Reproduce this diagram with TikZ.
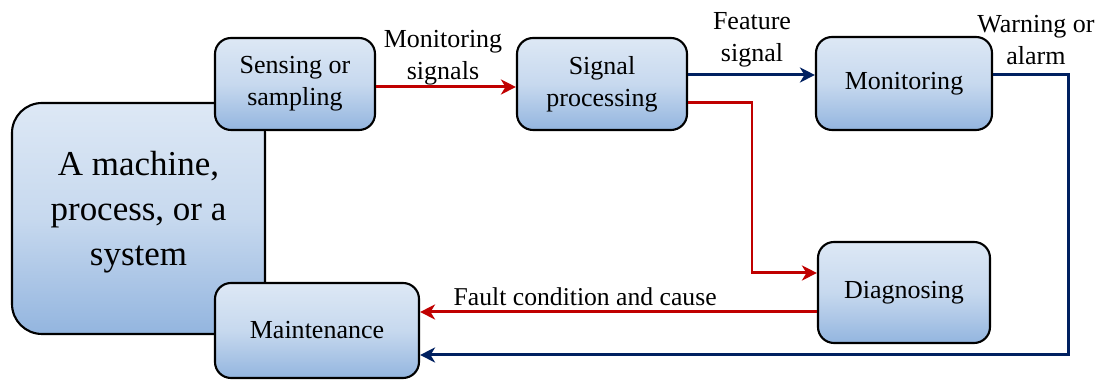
\documentclass[tikz,border=0pt]{standalone}
\usepackage{fontspec}
\setmainfont{Liberation Serif}
\usepackage{tikz}
\usetikzlibrary{arrows.meta,positioning}
\usepackage{xcolor}
\definecolor{lineRed}{HTML}{C00000}
\definecolor{lineBlue}{HTML}{002060}
\definecolor{boxTop}{HTML}{DDE8F5}
\definecolor{boxBot}{HTML}{93B5DF}

\begin{document}
\begin{tikzpicture}[
  blk/.style={rounded corners=0.32cm,draw,line width=1.2pt,top color=boxTop,bottom color=boxBot,middle color=boxTop!70!boxBot,align=center,font=\fontsize{14.8}{18.2}\selectfont},
  lbl/.style={align=center,font=\fontsize{14.8}{18.2}\selectfont},
  redarr/.style={-{Stealth[length=0.3cm,width=0.3cm,inset=0.09cm]},line width=1.7pt,lineRed},
  bluearr/.style={-{Stealth[length=0.3cm,width=0.3cm,inset=0.09cm]},line width=1.7pt,lineBlue}]

\useasboundingbox (0,0) rectangle (22.1,7.6);

\node[blk,rounded corners=0.6cm,minimum width=5.06cm,minimum height=4.62cm,font=\fontsize{19.9}{25.6}\selectfont] (mach) at (2.77,3.23) {A machine,\\process, or a\\system\\[-0.5cm]};
\node[blk,minimum width=3.2cm,minimum height=1.84cm] (sense) at (5.9,5.92) {Sensing or\\sampling};
\node[blk,minimum width=4.08cm,minimum height=1.9cm] (maint) at (6.34,0.99) {Maintenance};
\node[blk,minimum width=3.4cm,minimum height=1.84cm] (proc) at (12.04,5.92) {Signal\\processing};
\node[blk,minimum width=3.52cm,minimum height=1.86cm] (monit) at (18.08,5.93) {Monitoring};
\node[blk,minimum width=3.44cm,minimum height=2.02cm] (diag) at (18.08,1.75) {Diagnosing};

\node[lbl] (l1) at (8.86,6.45) {Monitoring\\signals};
\node[lbl] (l2) at (15.04,6.8) {Feature\\signal};
\node[lbl] (l3) at (20.72,6.8) {Warning or\\alarm};
\node[lbl,anchor=west,font=\fontsize{14.6}{16}\selectfont] (l4) at (8.95,1.66) {Fault condition and cause};

\coordinate (c1) at (15.04,5.54);
\coordinate (c2) at (21.36,6.10);

\draw[redarr] (sense.east |- 0,5.86) -- (proc.west |- 0,5.86);
\draw[bluearr] (proc.east |- c2) -- (monit.west |- c2);
\draw[redarr] (proc.east |- c1) -- (c1) |- (diag.west |- 0,2.14);
\draw[bluearr] (monit.east |- c2) -- (c2) |- (maint.east |- 0,0.5);
\draw[redarr] (diag.west |- 0,1.36) -- (maint.east |- 0,1.36);

\end{tikzpicture}
\end{document}
